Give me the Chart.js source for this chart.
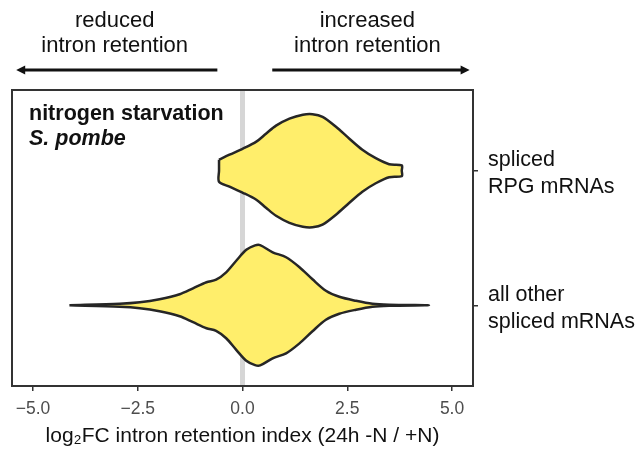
<!DOCTYPE html>
<html>
<head>
<meta charset="utf-8">
<script src="https://cdn.jsdelivr.net/npm/chart.js@4.4.1/dist/chart.umd.min.js"></script>
<style>
  html, body { margin: 0; padding: 0; background: #fff; }
  canvas { display: block; }
</style>
</head>
<body>
<canvas id="violinChart" width="638" height="450"></canvas>
<script>
// ---- data ----
const xTicks = [-5, -2.5, 0, 2.5, 5];
const groupTicks = [1, 2];
const groupLabels = [['all other', 'spliced mRNAs'], ['spliced', 'RPG mRNAs']];

// spliced RPG mRNAs: positions along log2FC and violin half-width (in category units)
const rpgX    = [-0.56, -0.31, 0.01, 0.33, 0.56, 0.80, 1.12, 1.44, 1.67, 1.91, 2.23, 2.55, 2.86, 3.18, 3.50, 3.80];
const rpgHalf = [0.082, 0.119, 0.164, 0.216, 0.275, 0.335, 0.387, 0.416, 0.420, 0.401, 0.327, 0.238, 0.156, 0.093, 0.048, 0.040];

// all other spliced mRNAs
const otherX    = [-4.13, -2.93, -2.45, -1.98, -1.50, -1.18, -0.86, -0.63, -0.39, -0.15, 0.09, 0.30, 0.42, 0.72, 1.04, 1.36, 1.67, 1.99, 2.31, 2.71, 3.10, 3.50, 4.45];
const otherHalf = [0, 0.011, 0.022, 0.045, 0.082, 0.126, 0.171, 0.190, 0.245, 0.331, 0.412, 0.445, 0.447, 0.394, 0.357, 0.283, 0.193, 0.108, 0.063, 0.033, 0.011, 0.004, 0];

const FONT = '"Liberation Sans", Arial, Helvetica, sans-serif';
const YELLOW = '#FFEE6B';
const OUTLINE = '#262626';

// closed outline starting at the top-left corner: top edge left->right, bottom edge right->left
function violinPoints(xs, half, center) {
  const n = xs.length;
  const pts = [];
  xs.forEach((x, i) => pts.push({ x, y: center + half[i] }));
  if (half[n - 1] > 0) pts.push({ x: xs[n - 1], y: center });
  for (let i = n - 1; i >= 0; i--) {
    if (half[i] > 0) pts.push({ x: xs[i], y: center - half[i] });
  }
  if (half[0] > 0) pts.push({ x: xs[0], y: center });
  pts.push(pts[0]);
  return pts;
}

const fmtTick = v => (v < 0 ? '\u2212' : '') + Math.abs(v).toFixed(1);

// box, direction arrows and panel notes
const decorations = {
  id: 'decorations',
  afterDatasetsDraw(chart) {
    const { ctx, chartArea: a } = chart;
    ctx.save();
    ctx.strokeStyle = '#333';
    ctx.lineWidth = 2;
    ctx.strokeRect(a.left, a.top, a.right - a.left, a.bottom - a.top);
    ctx.restore();
  },
  afterDraw(chart) {
    const { ctx } = chart;
    const xs = chart.scales.x;
    const px = v => xs.getPixelForValue(v);
    ctx.save();
    ctx.fillStyle = '#111';
    ctx.textAlign = 'center';
    ctx.textBaseline = 'middle';
    ctx.font = '22px ' + FONT;
    ctx.fillText('reduced', px(-3.05), 21);
    ctx.fillText('intron retention', px(-3.05), 46);
    ctx.fillText('increased', px(2.98), 21);
    ctx.fillText('intron retention', px(2.98), 46);

    // arrows
    ctx.strokeStyle = '#111';
    ctx.lineWidth = 2.8;
    const ay = 70;
    const arrow = (x0, x1) => {
      const dir = Math.sign(x1 - x0);
      ctx.beginPath();
      ctx.moveTo(x0, ay);
      ctx.lineTo(x1 - dir * 6, ay);
      ctx.stroke();
      ctx.beginPath();
      ctx.moveTo(x1, ay);
      ctx.lineTo(x1 - dir * 9, ay - 4.5);
      ctx.lineTo(x1 - dir * 9, ay + 4.5);
      ctx.closePath();
      ctx.fill();
    };
    arrow(px(-0.6), px(-5.4));
    arrow(px(0.71), px(5.42));

    // panel notes
    ctx.textAlign = 'left';
    ctx.font = 'bold 21.5px ' + FONT;
    ctx.fillText('nitrogen starvation', 29, 114);
    ctx.font = 'italic bold 21.5px ' + FONT;
    ctx.fillText('S. pombe', 29, 139);
    ctx.restore();
  }
};

new Chart(document.getElementById('violinChart'), {
  type: 'line',
  data: {
    datasets: [
      { data: violinPoints(rpgX, rpgHalf, 2), fill: 'shape', backgroundColor: YELLOW, borderColor: OUTLINE,
        borderWidth: 2.5, tension: 0.3, pointRadius: 0, borderJoinStyle: 'round', order: 1 },
      { data: violinPoints(otherX, otherHalf, 1), fill: 'shape', backgroundColor: YELLOW, borderColor: OUTLINE,
        borderWidth: 2.5, tension: 0.3, pointRadius: 0, borderJoinStyle: 'round', order: 2 },
      { data: [{ x: 0, y: 0.4 }, { x: 0, y: 2.6 }], borderColor: '#d6d6d6', borderWidth: 5,
        pointRadius: 0, fill: false, order: 10 }
    ]
  },
  options: {
    responsive: false,
    animation: false,
    layout: { padding: { left: 12, top: 90, right: 0, bottom: 0 } },
    plugins: { legend: { display: false }, tooltip: { enabled: false } },
    scales: {
      x: {
        type: 'linear', min: -5.5, max: 5.5,
        afterBuildTicks: s => { s.ticks = xTicks.map(value => ({ value })); },
        afterFit: s => { s.height = 64; },
        border: { display: false },
        grid: { drawOnChartArea: false, drawTicks: true, tickLength: 5, color: '#333', lineWidth: 1.5 },
        ticks: { callback: v => fmtTick(v), color: '#4d4d4d', font: { family: FONT, size: 17.5 }, padding: 8, maxRotation: 0 },
        title: { display: true, text: 'log\u2082FC intron retention index (24h -N / +N)', color: '#111',
          font: { family: FONT, size: 21 }, padding: { top: 2, bottom: 1 } }
      },
      y: {
        type: 'linear', position: 'right', min: 0.4, max: 2.6,
        afterBuildTicks: s => { s.ticks = groupTicks.map(value => ({ value })); },
        afterFit: s => { s.width = 165; },
        border: { display: false },
        grid: { drawOnChartArea: false, drawTicks: true, tickLength: 5, color: '#333', lineWidth: 1.5 },
        ticks: { callback: v => groupLabels[groupTicks.indexOf(v)], color: '#111', crossAlign: 'near',
          font: { family: FONT, size: 21.5, lineHeight: 1.25 }, padding: 10, labelOffset: 3 }
      }
    }
  },
  plugins: [decorations]
});
</script>
</body>
</html>
